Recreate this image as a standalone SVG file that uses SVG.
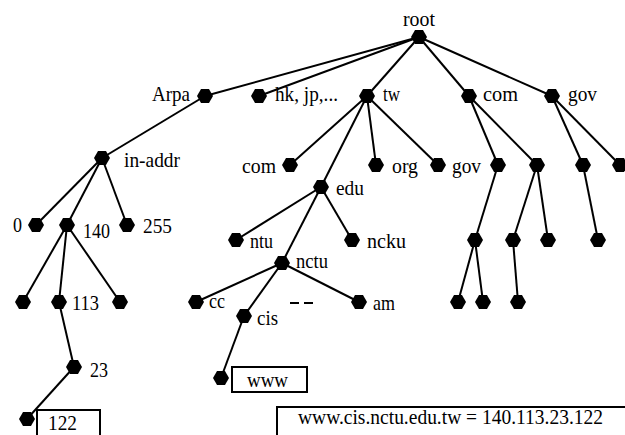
<svg xmlns="http://www.w3.org/2000/svg" width="625" height="435" viewBox="0 0 625 435">
  <style>
    .edge { stroke: #000; stroke-width: 2; fill: none; }
    .lbl { font-family: "Liberation Serif", "Times New Roman", serif; font-size: 21px; fill: #000; }
    .box { fill: #fff; stroke: #000; stroke-width: 2; }
    .hex { fill: #000; }
  </style>
  <defs>
    <polygon id="hexnode" points="-8,0 -4,-7 4,-7 8,0 4,7 -4,7"/>
  </defs>
  <rect width="625" height="435" fill="#fff"/>

  <!-- connectors -->
  <g id="connectors" class="edge">
    <line x1="419" y1="37" x2="205" y2="96"/>
    <line x1="419" y1="37" x2="259" y2="96"/>
    <line x1="419" y1="37" x2="367" y2="96"/>
    <line x1="419" y1="37" x2="469" y2="96"/>
    <line x1="419" y1="37" x2="552" y2="96"/>
    <line x1="205" y1="96" x2="102" y2="158"/>
    <line x1="102" y1="158" x2="36" y2="225"/>
    <line x1="102" y1="158" x2="67" y2="225"/>
    <line x1="102" y1="158" x2="127" y2="225"/>
    <line x1="67" y1="225" x2="23" y2="302"/>
    <line x1="67" y1="225" x2="59" y2="302"/>
    <line x1="67" y1="225" x2="120" y2="302"/>
    <line x1="59" y1="302" x2="74" y2="367"/>
    <line x1="74" y1="367" x2="27" y2="419"/>
    <line x1="367" y1="96" x2="290" y2="165"/>
    <line x1="367" y1="96" x2="321" y2="187"/>
    <line x1="367" y1="96" x2="376" y2="165"/>
    <line x1="367" y1="96" x2="438" y2="165"/>
    <line x1="321" y1="187" x2="236" y2="240"/>
    <line x1="321" y1="187" x2="352" y2="240"/>
    <line x1="321" y1="187" x2="282" y2="263"/>
    <line x1="282" y1="263" x2="196" y2="302"/>
    <line x1="282" y1="263" x2="244" y2="316"/>
    <line x1="282" y1="263" x2="359" y2="302"/>
    <line x1="244" y1="316" x2="221" y2="378"/>
    <line x1="469" y1="96" x2="498" y2="165"/>
    <line x1="469" y1="96" x2="537" y2="165"/>
    <line x1="552" y1="96" x2="583" y2="165"/>
    <line x1="552" y1="96" x2="620" y2="165"/>
    <line x1="498" y1="165" x2="475" y2="240"/>
    <line x1="475" y1="240" x2="458" y2="302"/>
    <line x1="475" y1="240" x2="483" y2="302"/>
    <line x1="537" y1="165" x2="513" y2="240"/>
    <line x1="537" y1="165" x2="548" y2="240"/>
    <line x1="513" y1="240" x2="518" y2="302"/>
    <line x1="583" y1="165" x2="598" y2="240"/>
  </g>

  <!-- nodes -->
  <g id="n-root"><use href="#hexnode" class="hex" x="419" y="37"/><text class="lbl" x="403" y="26" textLength="32" lengthAdjust="spacingAndGlyphs">root</text></g>
  <g id="n-arpa"><use href="#hexnode" class="hex" x="205" y="96"/><text class="lbl" x="152" y="101" textLength="38" lengthAdjust="spacingAndGlyphs">Arpa</text></g>
  <g id="n-hk"><use href="#hexnode" class="hex" x="259" y="96"/><text class="lbl" x="275" y="101" textLength="63" lengthAdjust="spacingAndGlyphs">hk, jp,...</text></g>
  <g id="n-tw"><use href="#hexnode" class="hex" x="367" y="96"/><text class="lbl" x="383" y="101" textLength="17" lengthAdjust="spacingAndGlyphs">tw</text></g>
  <g id="n-com"><use href="#hexnode" class="hex" x="469" y="96"/><text class="lbl" x="483" y="101" textLength="35" lengthAdjust="spacingAndGlyphs">com</text></g>
  <g id="n-gov"><use href="#hexnode" class="hex" x="552" y="96"/><text class="lbl" x="568" y="101" textLength="29" lengthAdjust="spacingAndGlyphs">gov</text></g>

  <g id="n-inaddr"><use href="#hexnode" class="hex" x="102" y="158"/><text class="lbl" x="124" y="167" textLength="56" lengthAdjust="spacingAndGlyphs">in-addr</text></g>
  <g id="n-0"><use href="#hexnode" class="hex" x="36" y="225"/><text class="lbl" x="13" y="232" textLength="9" lengthAdjust="spacingAndGlyphs">0</text></g>
  <g id="n-140"><use href="#hexnode" class="hex" x="67" y="225"/><text class="lbl" x="83" y="238" textLength="27" lengthAdjust="spacingAndGlyphs">140</text></g>
  <g id="n-255"><use href="#hexnode" class="hex" x="127" y="225"/><text class="lbl" x="143" y="233" textLength="29" lengthAdjust="spacingAndGlyphs">255</text></g>
  <g id="n-140a"><use href="#hexnode" class="hex" x="23" y="302"/></g>
  <g id="n-113"><use href="#hexnode" class="hex" x="59" y="302"/><text class="lbl" x="72" y="310" textLength="27" lengthAdjust="spacingAndGlyphs">113</text></g>
  <g id="n-140c"><use href="#hexnode" class="hex" x="120" y="302"/></g>
  <g id="n-23"><use href="#hexnode" class="hex" x="74" y="367"/><text class="lbl" x="90" y="377" textLength="18" lengthAdjust="spacingAndGlyphs">23</text></g>
  <g id="n-122">
    <rect class="box" x="37" y="410" width="63" height="30"/>
    <use href="#hexnode" class="hex" x="27" y="419"/>
    <text class="lbl" x="48" y="430" textLength="29" lengthAdjust="spacingAndGlyphs">122</text>
  </g>

  <g id="n-tw-com"><use href="#hexnode" class="hex" x="290" y="165"/><text class="lbl" x="242" y="173" textLength="34" lengthAdjust="spacingAndGlyphs">com</text></g>
  <g id="n-edu"><use href="#hexnode" class="hex" x="321" y="187"/><text class="lbl" x="336" y="195" textLength="28" lengthAdjust="spacingAndGlyphs">edu</text></g>
  <g id="n-org"><use href="#hexnode" class="hex" x="376" y="165"/><text class="lbl" x="392" y="173" textLength="26" lengthAdjust="spacingAndGlyphs">org</text></g>
  <g id="n-tw-gov"><use href="#hexnode" class="hex" x="438" y="165"/><text class="lbl" x="452" y="173" textLength="29" lengthAdjust="spacingAndGlyphs">gov</text></g>
  <g id="n-ntu"><use href="#hexnode" class="hex" x="236" y="240"/><text class="lbl" x="250" y="248" textLength="23" lengthAdjust="spacingAndGlyphs">ntu</text></g>
  <g id="n-ncku"><use href="#hexnode" class="hex" x="352" y="240"/><text class="lbl" x="367" y="248" textLength="39" lengthAdjust="spacingAndGlyphs">ncku</text></g>
  <g id="n-nctu"><use href="#hexnode" class="hex" x="282" y="263"/><text class="lbl" x="296" y="268" textLength="32" lengthAdjust="spacingAndGlyphs">nctu</text></g>
  <g id="n-cc"><use href="#hexnode" class="hex" x="196" y="302"/><text class="lbl" x="209" y="308" textLength="16" lengthAdjust="spacingAndGlyphs">cc</text></g>
  <g id="n-cis"><use href="#hexnode" class="hex" x="244" y="316"/><text class="lbl" x="257" y="325" textLength="21" lengthAdjust="spacingAndGlyphs">cis</text></g>
  <g id="n-am"><use href="#hexnode" class="hex" x="359" y="302"/><text class="lbl" x="373" y="310" textLength="22" lengthAdjust="spacingAndGlyphs">am</text></g>
  <g id="n-more"><path class="edge" d="M290,303 H299 M304,303 H313"/></g>
  <g id="n-www">
    <rect class="box" x="232" y="367" width="75" height="25"/>
    <use href="#hexnode" class="hex" x="221" y="378"/>
    <text class="lbl" x="247" y="387" textLength="41" lengthAdjust="spacingAndGlyphs">www</text>
  </g>

  <g id="n-com-a"><use href="#hexnode" class="hex" x="498" y="165"/></g>
  <g id="n-com-b"><use href="#hexnode" class="hex" x="537" y="165"/></g>
  <g id="n-gov-a"><use href="#hexnode" class="hex" x="583" y="165"/></g>
  <g id="n-gov-b"><use href="#hexnode" class="hex" x="620" y="165"/></g>
  <g id="n-com-a1"><use href="#hexnode" class="hex" x="475" y="240"/></g>
  <g id="n-com-b1"><use href="#hexnode" class="hex" x="513" y="240"/></g>
  <g id="n-com-b2"><use href="#hexnode" class="hex" x="548" y="240"/></g>
  <g id="n-gov-a1"><use href="#hexnode" class="hex" x="598" y="240"/></g>
  <g id="n-com-a1a"><use href="#hexnode" class="hex" x="458" y="302"/></g>
  <g id="n-com-a1b"><use href="#hexnode" class="hex" x="483" y="302"/></g>
  <g id="n-com-b1a"><use href="#hexnode" class="hex" x="518" y="302"/></g>

  <!-- result box -->
  <g id="n-result">
    <rect class="box" x="277" y="407" width="360" height="40"/>
    <text class="lbl" x="298" y="424" textLength="305" lengthAdjust="spacingAndGlyphs">www.cis.nctu.edu.tw = 140.113.23.122</text>
  </g>
</svg>
